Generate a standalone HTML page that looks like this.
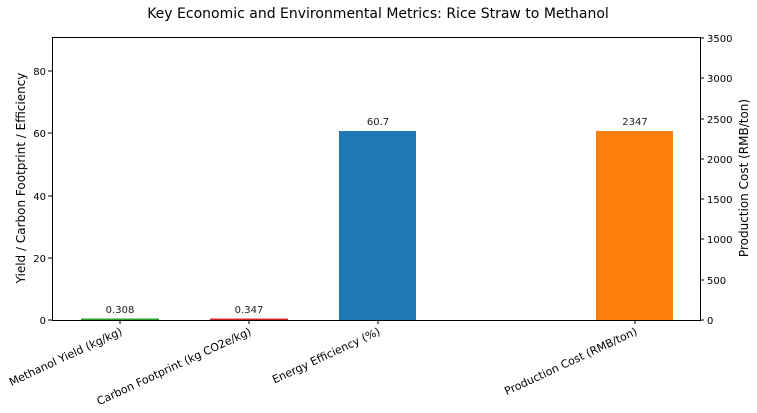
<!DOCTYPE html>
<html><head><meta charset="utf-8"><style>body{margin:0;background:#fff}svg{display:block;font-family:"DejaVu Sans","Liberation Sans",sans-serif}</style></head><body>
<svg width="757" height="413" viewBox="0 0 757 413">
<text x="378" y="18" text-anchor="middle" font-size="14">Key Economic and Environmental Metrics: Rice Straw to Methanol</text>
<rect x="81" y="318.5" width="78" height="1.5" fill="#2ca02c"/>
<rect x="210" y="318.5" width="78" height="1.5" fill="#d62728"/>
<rect x="339" y="131" width="77" height="189" fill="#1f77b4"/>
<rect x="596" y="131" width="77" height="189" fill="#ff7f0e"/>
<g font-size="10" text-anchor="middle" fill="#222">
<text x="120" y="313">0.308</text><text x="249" y="313">0.347</text><text x="378" y="125">60.7</text><text x="635" y="125">2347</text>
</g>
<rect x="52.5" y="37.5" width="648" height="283" fill="none" stroke="#000" stroke-width="1"/>
<g stroke="#000">
<line x1="48" y1="320" x2="52" y2="320"/><line x1="48" y1="258" x2="52" y2="258"/><line x1="48" y1="196" x2="52" y2="196"/><line x1="48" y1="133" x2="52" y2="133"/><line x1="48" y1="71" x2="52" y2="71"/>
<line x1="120" y1="320" x2="120" y2="324"/><line x1="249" y1="320" x2="249" y2="324"/><line x1="378" y1="320" x2="378" y2="324"/><line x1="635" y1="320" x2="635" y2="324"/>
<line x1="700" y1="320" x2="704" y2="320"/><line x1="700" y1="280" x2="704" y2="280"/><line x1="700" y1="239" x2="704" y2="239"/><line x1="700" y1="199" x2="704" y2="199"/><line x1="700" y1="159" x2="704" y2="159"/><line x1="700" y1="119" x2="704" y2="119"/><line x1="700" y1="78" x2="704" y2="78"/><line x1="700" y1="38" x2="704" y2="38"/>
</g>
<g font-size="10" text-anchor="end">
<text x="46" y="324">0</text><text x="46" y="262">20</text><text x="46" y="200">40</text><text x="46" y="137">60</text><text x="46" y="75">80</text>
</g>
<g font-size="10" text-anchor="start">
<text x="707" y="324">0</text><text x="707" y="284">500</text><text x="707" y="243">1000</text><text x="707" y="203">1500</text><text x="707" y="163">2000</text><text x="707" y="123">2500</text><text x="707" y="82">3000</text><text x="707" y="42">3500</text>
</g>
<g font-size="11" text-anchor="end">
<text transform="translate(123,334) rotate(-25)">Methanol Yield (kg/kg)</text>
<text transform="translate(252,334) rotate(-25)">Carbon Footprint (kg CO2e/kg)</text>
<text transform="translate(381,334) rotate(-25)">Energy Efficiency (%)</text>
<text transform="translate(638,334) rotate(-25)">Production Cost (RMB/ton)</text>
</g>
<text transform="translate(25,178) rotate(-90)" text-anchor="middle" font-size="12">Yield / Carbon Footprint / Efficiency</text>
<text transform="translate(748,178) rotate(-90)" text-anchor="middle" font-size="12">Production Cost (RMB/ton)</text>
</svg>
</body></html>
